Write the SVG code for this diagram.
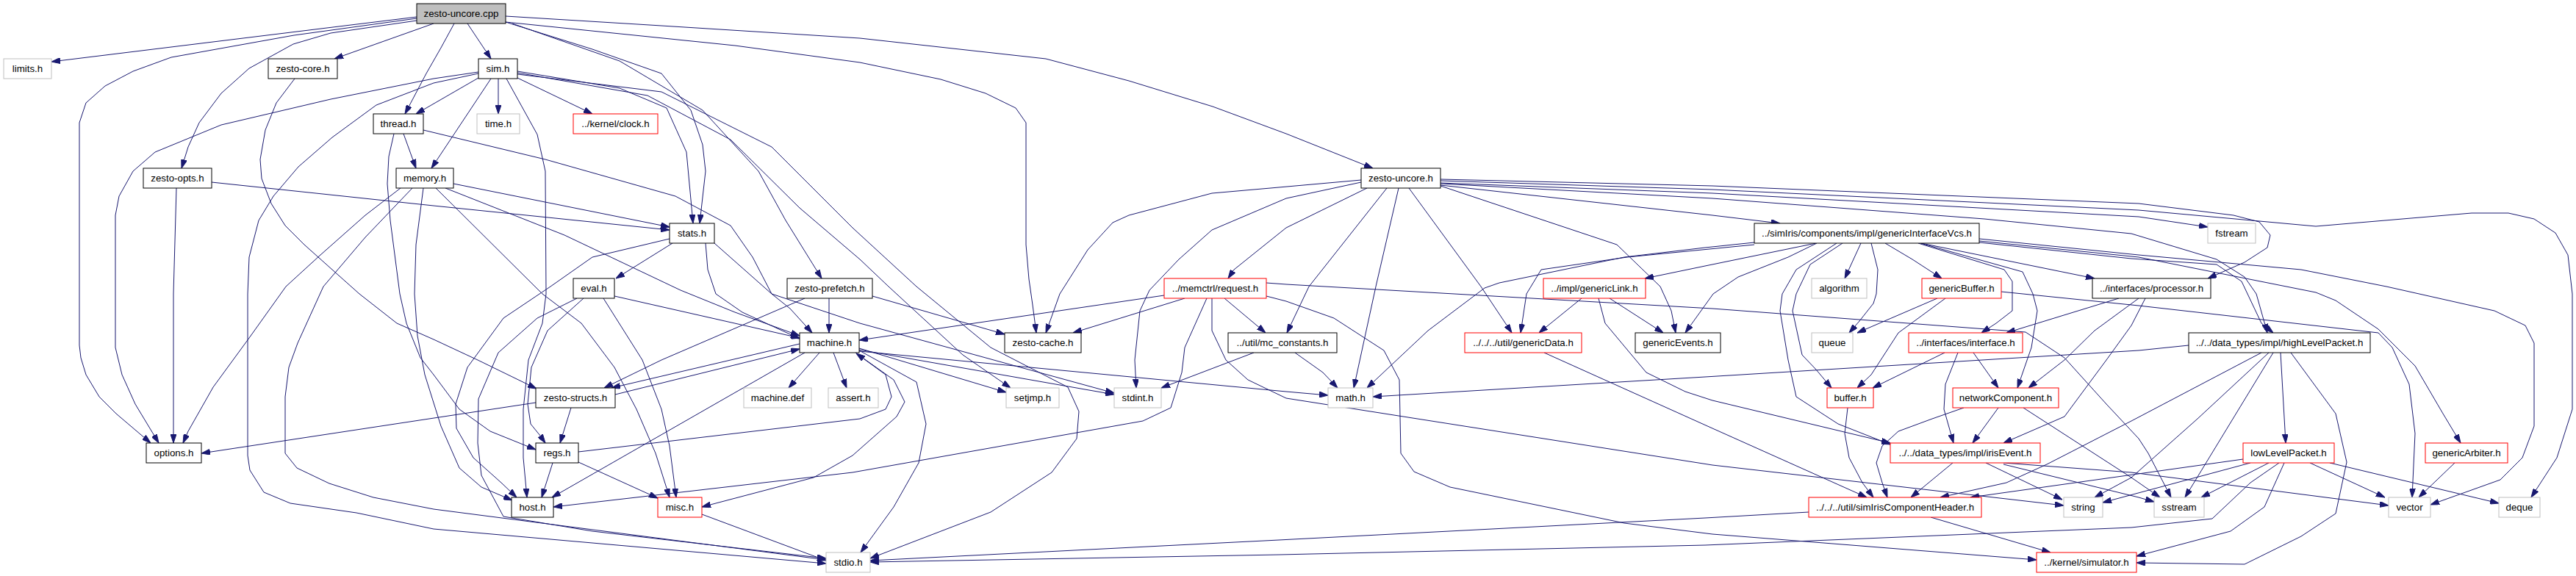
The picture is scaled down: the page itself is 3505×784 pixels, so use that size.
<svg xmlns="http://www.w3.org/2000/svg" width="3505" height="784" viewBox="0 0 3505 784">
<style>
rect{fill:#fff;stroke:#000;stroke-width:1}
.g rect{stroke:#bfbfbf}
.r rect{stroke:#ff0000}
.root rect{fill:#bfbfbf}
text{font-family:"Liberation Sans",Arial,Helvetica,sans-serif;font-size:13.3px;text-anchor:middle;fill:#000}
#edges path{fill:none;stroke:#191970;stroke-width:1;stroke-linejoin:round;marker-end:url(#a)}
</style>
<defs>
<marker id="a" viewBox="0 0 12 8" markerWidth="12" markerHeight="8" refX="12" refY="4" orient="auto" markerUnits="userSpaceOnUse">
<path d="M0,0 L12,4 L0,8 Z" fill="#191970" stroke="#191970" stroke-width="1"/>
</marker>
</defs>
<rect x="0" y="0" width="3505" height="784" style="fill:#fff;stroke:none"/>
<g id="edges">
<path d="M567,23 L70,84"/>
<path d="M567,25 L400,48 L233,78 L181,97 L143,117 L117,140 L108,167 L108,470 L110,487 L117,510 L135,540 L158,563 L205,603"/>
<path d="M567,28 L450,45 L399,60 L339,93 L301,127 L271,167 L256,200 L247,229"/>
<path d="M590,32 L455,80"/>
<path d="M618,32 L600,65 L580,100 L551,155"/>
<path d="M636,32 L668,80"/>
<path d="M688,30 L806,67 L900,100 L940,150 L956,197 L960,233 L952,304"/>
<path d="M697,32 L843,83 L956,150 L1032,233 L1069,300 L1118,379"/>
<path d="M688,22 L900,35 L1170,52 L1423,80 L1536,110 L1650,145 L1750,182 L1868,229"/>
<path d="M688,30 L1000,62 L1170,85 L1280,108 L1341,127 L1382,147 L1396,167 L1396,333 L1400,380 L1405,415 L1410,453"/>
<path d="M678,107 L678,155"/>
<path d="M704,106 L806,155"/>
<path d="M668,107 L587,229"/>
<path d="M651,106 L580,147 L566,155"/>
<path d="M651,98 L590,107 L450,135 L301,170 L211,207 L181,233 L162,267 L157,293 L157,473 L166,510 L184,550 L216,603"/>
<path d="M651,100 L590,113 L512,143 L452,187 L406,227 L372,267 L352,300 L339,350 L337,400 L337,620 L340,640 L359,670 L395,685 L485,698 L590,720 L1124,767"/>
<path d="M689,107 L731,183 L742,233 L743,400 L738,440 L719,490 L712,557 L712,623 L717,677"/>
<path d="M704,97 L843,120 L907,147 L934,207 L943,304"/>
<path d="M704,99 L881,130 L994,190 L1088,283 L1170,353 L1209,390 L1310,483 L1375,528"/>
<path d="M704,101 L900,125 L1050,200 L1160,310 L1247,390 L1348,473 L1453,527 L1468,560 L1465,597 L1431,643 L1348,697 L1184,760"/>
<path d="M401,107 L376,140 L361,177 L354,217 L356,243 L369,277 L388,307 L414,333 L452,367 L489,400 L540,440 L590,462 L650,490 L730,529"/>
<path d="M549,182 L566,229"/>
<path d="M536,182 L529,213 L527,250 L531,300 L544,400 L553,440 L572,487 L590,510 L625,557 L667,587 L729,612"/>
<path d="M576,177 L742,217 L919,267 L994,307 L1024,350 L1050,400 L1075,420 L1105,453"/>
<path d="M617,250 L911,309"/>
<path d="M545,256 L497,293 L436,347 L389,390 L339,460 L290,527 L256,587 L249,603"/>
<path d="M561,256 L497,323 L440,390 L405,467 L393,500 L388,540 L388,617 L404,637 L448,658 L508,677 L590,693 L1124,762"/>
<path d="M576,256 L566,333 L564,400 L568,457 L578,510 L600,580 L625,637 L655,663 L697,681"/>
<path d="M606,256 L768,320 L926,395 L1000,425 L1088,457"/>
<path d="M593,256 L738,400 L791,440 L836,500 L866,557 L892,617 L911,677"/>
<path d="M240,256 L236,400 L236,603"/>
<path d="M288,248 L590,280 L911,313"/>
<path d="M915,331 L838,379"/>
<path d="M960,331 L963,367 L974,400 L1010,425 L1088,461"/>
<path d="M911,325 L806,350 L749,390 L685,433 L636,500 L620,550 L621,583 L644,623 L682,657 L703,677"/>
<path d="M972,331 L1050,400 L1170,440 L1516,535"/>
<path d="M836,403 L1088,460"/>
<path d="M794,406 L745,450 L723,500 L718,550 L722,577 L735,593 L742,603"/>
<path d="M821,406 L874,490 L900,557 L911,607 L920,677"/>
<path d="M785,406 L731,433 L678,480 L651,543 L650,603 L655,647 L685,703 L806,723 L1124,760"/>
<path d="M1128,406 L1128,453"/>
<path d="M1095,406 L900,490 L822,528"/>
<path d="M1187,403 L1367,455"/>
<path d="M729,548 L274,617"/>
<path d="M777,555 L762,603"/>
<path d="M837,537 L1088,475"/>
<path d="M1088,468 L832,528"/>
<path d="M752,630 L737,677"/>
<path d="M787,629 L895,678"/>
<path d="M787,615 L1170,570 L1205,557 L1213,540 L1205,510 L1165,481"/>
<path d="M1115,480 L1073,528"/>
<path d="M1134,480 L1152,528"/>
<path d="M1095,480 L751,677"/>
<path d="M1164,480 L1216,517 L1231,547 L1220,567 L1160,620 L1107,650 L955,690"/>
<path d="M1169,477 L1247,520 L1260,577 L1250,630 L1216,690 L1171,752"/>
<path d="M1169,474 L1369,534"/>
<path d="M1169,476 L1516,537"/>
<path d="M1169,478 L1750,533 L1807,538"/>
<path d="M955,700 L1124,763"/>
<path d="M1584,402 L1169,463"/>
<path d="M1612,406 L1460,453"/>
<path d="M1666,406 L1722,453"/>
<path d="M1642,406 L1612,473 L1608,507 L1593,555 L1555,573 L1160,643 L753,690"/>
<path d="M1649,406 L1649,450 L1668,490 L1698,517 L1750,542 L2330,633 L2808,688"/>
<path d="M1723,385 L1750,387 L2330,420 L2756,452 L2809,487 L2866,550 L2910,597 L2923,617 L2954,677"/>
<path d="M1723,403 L1750,410 L1815,433 L1883,477 L1904,517 L1906,617 L1924,642 L1973,663 L2210,712 L2330,727 L2771,762"/>
<path d="M1706,480 L1580,528"/>
<path d="M1762,480 L1800,507 L1820,528"/>
<path d="M1852,245 L1740,255 L1649,263 L1536,293 L1514,303 L1480,340 L1442,400 L1423,453"/>
<path d="M1852,248 L1750,270 L1649,313 L1604,353 L1564,395 L1551,423 L1544,490 L1546,528"/>
<path d="M1860,256 L1750,310 L1679,367 L1671,379"/>
<path d="M1887,256 L1781,390 L1751,453"/>
<path d="M1903,256 L1872,390 L1842,528"/>
<path d="M1917,256 L2015,390 L2057,453"/>
<path d="M1960,253 L2200,333 L2259,390 L2274,423 L2280,453"/>
<path d="M1960,252 L2330,293 L2422,304"/>
<path d="M1960,249 L2330,263 L2910,295 L3004,309"/>
<path d="M1960,246 L2330,258 L2910,286 L3151,308 L3363,290 L3413,290 L3448,298 L3477,317 L3494,347 L3500,400 L3500,557 L3479,623 L3444,677"/>
<path d="M1960,244 L2330,253 L2910,277 L3039,293 L3074,302 L3089,320 L3085,337 L3054,357 L3004,379"/>
<path d="M1960,250 L2330,270 L2700,298 L2900,318 L3016,353 L3054,377 L3070,400 L3085,453"/>
<path d="M2387,330 L2320,337 L2210,350 L2040,385 L2020,392 L1943,450 L1860,528"/>
<path d="M2387,333 L2214,350 L2097,367 L2077,400 L2069,453"/>
<path d="M2471,331 L2320,362 L2238,379"/>
<path d="M2472,331 L2433,350 L2365,377 L2331,400 L2293,453"/>
<path d="M2499,331 L2444,367 L2425,400 L2422,423 L2433,490 L2444,540 L2501,577 L2572,605"/>
<path d="M2507,331 L2463,360 L2444,400 L2439,423 L2452,483 L2471,503 L2492,528"/>
<path d="M2532,331 L2510,379"/>
<path d="M2546,331 L2555,367 L2553,400 L2549,413 L2530,437 L2516,453"/>
<path d="M2565,331 L2602,353 L2642,379"/>
<path d="M2610,331 L2727,367 L2738,383 L2738,423 L2716,440 L2696,453"/>
<path d="M2613,331 L2752,370 L2766,400 L2772,423 L2764,473 L2745,528"/>
<path d="M2614,331 L2850,379"/>
<path d="M2693,325 L2910,347 L3131,367 L3247,390 L3394,423 L3436,443 L3448,467 L3448,580 L3432,623 L3402,653 L3307,687"/>
<path d="M2693,328 L2910,350 L3151,398 L3178,409 L3236,448 L3286,498 L3324,563 L3348,603"/>
<path d="M2693,330 L2900,352 L3016,360 L3050,383 L3077,440 L3093,453"/>
<path d="M2152,406 L2094,453"/>
<path d="M2190,406 L2263,453"/>
<path d="M2175,406 L2184,440 L2240,507 L2293,533 L2330,545 L2572,603"/>
<path d="M2636,406 L2527,453"/>
<path d="M2647,406 L2583,453 L2546,510 L2527,528"/>
<path d="M2723,397 L2910,416 L3236,453 L3255,473 L3278,523 L3286,590 L3282,677"/>
<path d="M2883,406 L2730,453"/>
<path d="M2910,406 L2850,450 L2809,490 L2760,528"/>
<path d="M2919,406 L2900,443 L2866,490 L2809,567 L2726,603"/>
<path d="M2646,480 L2548,528"/>
<path d="M2664,480 L2647,523 L2645,557 L2658,603"/>
<path d="M2685,480 L2719,528"/>
<path d="M2514,555 L2510,590 L2516,623 L2534,657 L2549,677"/>
<path d="M2719,555 L2684,603"/>
<path d="M2672,555 L2629,570 L2583,587 L2561,607 L2553,630 L2561,657 L2568,677"/>
<path d="M2753,555 L2900,650 L2939,677"/>
<path d="M2657,630 L2600,677"/>
<path d="M2702,630 L2806,680"/>
<path d="M2726,630 L2900,643 L3250,688"/>
<path d="M2726,632 L2910,677 L2931,683"/>
<path d="M3052,625 L2681,677"/>
<path d="M3062,630 L2861,684"/>
<path d="M3087,630 L2995,677"/>
<path d="M3101,630 L3062,657 L3010,706 L2900,718 L2320,742 L1740,755 L1184,765"/>
<path d="M3108,630 L3081,690 L3035,723 L2907,757"/>
<path d="M3143,630 L3245,677"/>
<path d="M3170,630 L3400,685"/>
<path d="M3340,630 L3291,677"/>
<path d="M2978,470 L2910,477 L2320,513 L1868,540"/>
<path d="M3077,480 L2900,573 L2785,632 L2730,657 L2640,677"/>
<path d="M3087,480 L2990,570 L2900,650 L2850,677"/>
<path d="M3093,480 L2973,677"/>
<path d="M3103,480 L3110,603"/>
<path d="M3117,480 L3178,563 L3193,629 L3178,699 L3131,730 L3054,768 L2907,766"/>
<path d="M2101,480 L2330,583 L2540,677"/>
<path d="M2461,697 L2320,705 L1740,735 L1184,763"/>
<path d="M2627,704 L2790,752"/>
</g>
<g id="n-cpp" class="root"><rect x="567" y="5" width="121" height="27"/><text x="627.5" y="23">zesto-uncore.cpp</text></g>
<g id="n-limits" class="g"><rect x="5" y="80" width="65" height="27"/><text x="37.5" y="98">limits.h</text></g>
<g id="n-core"><rect x="365" y="80" width="94" height="27"/><text x="412" y="98">zesto-core.h</text></g>
<g id="n-sim"><rect x="651" y="80" width="53" height="27"/><text x="677.5" y="98">sim.h</text></g>
<g id="n-time" class="g"><rect x="649" y="155" width="58" height="27"/><text x="678" y="173">time.h</text></g>
<g id="n-clock" class="r"><rect x="780" y="155" width="115" height="27"/><text x="837.5" y="173">../kernel/clock.h</text></g>
<g id="n-thread"><rect x="508" y="155" width="68" height="27"/><text x="542" y="173">thread.h</text></g>
<g id="n-opts"><rect x="195" y="229" width="93" height="27"/><text x="241.5" y="247">zesto-opts.h</text></g>
<g id="n-memory"><rect x="539" y="229" width="78" height="27"/><text x="578" y="247">memory.h</text></g>
<g id="n-uncoreh"><rect x="1852" y="229" width="108" height="27"/><text x="1906" y="247">zesto-uncore.h</text></g>
<g id="n-stats"><rect x="911" y="304" width="61" height="27"/><text x="941.5" y="322">stats.h</text></g>
<g id="n-givcs"><rect x="2387" y="304" width="306" height="27"/><text x="2540" y="322">../simIris/components/impl/genericInterfaceVcs.h</text></g>
<g id="n-fstream" class="g"><rect x="3004" y="304" width="65" height="27"/><text x="3036.5" y="322">fstream</text></g>
<g id="n-eval"><rect x="780" y="379" width="56" height="27"/><text x="808" y="397">eval.h</text></g>
<g id="n-prefetch"><rect x="1071" y="379" width="116" height="27"/><text x="1129" y="397">zesto-prefetch.h</text></g>
<g id="n-request" class="r"><rect x="1584" y="379" width="139" height="27"/><text x="1653.5" y="397">../memctrl/request.h</text></g>
<g id="n-glink" class="r"><rect x="2100" y="379" width="139" height="27"/><text x="2169.5" y="397">../impl/genericLink.h</text></g>
<g id="n-algorithm" class="g"><rect x="2465" y="379" width="75" height="27"/><text x="2502.5" y="397">algorithm</text></g>
<g id="n-gbuffer" class="r"><rect x="2615" y="379" width="108" height="27"/><text x="2669" y="397">genericBuffer.h</text></g>
<g id="n-processor"><rect x="2847" y="379" width="161" height="27"/><text x="2927.5" y="397">../interfaces/processor.h</text></g>
<g id="n-machine"><rect x="1088" y="453" width="81" height="27"/><text x="1128.5" y="471">machine.h</text></g>
<g id="n-cache"><rect x="1367" y="453" width="104" height="27"/><text x="1419" y="471">zesto-cache.h</text></g>
<g id="n-mcconst"><rect x="1671" y="453" width="148" height="27"/><text x="1745" y="471">../util/mc_constants.h</text></g>
<g id="n-gdata" class="r"><rect x="1993" y="453" width="159" height="27"/><text x="2072.5" y="471">../../../util/genericData.h</text></g>
<g id="n-gevents"><rect x="2225" y="453" width="116" height="27"/><text x="2283" y="471">genericEvents.h</text></g>
<g id="n-queue" class="g"><rect x="2465" y="453" width="56" height="27"/><text x="2493" y="471">queue</text></g>
<g id="n-interface" class="r"><rect x="2597" y="453" width="155" height="27"/><text x="2674.5" y="471">../interfaces/interface.h</text></g>
<g id="n-hlp"><rect x="2978" y="453" width="247" height="27"/><text x="3101.5" y="471">../../data_types/impl/highLevelPacket.h</text></g>
<g id="n-structs"><rect x="729" y="528" width="108" height="27"/><text x="783" y="546">zesto-structs.h</text></g>
<g id="n-mdef" class="g"><rect x="1012" y="528" width="92" height="27"/><text x="1058" y="546">machine.def</text></g>
<g id="n-assert" class="g"><rect x="1127" y="528" width="68" height="27"/><text x="1161" y="546">assert.h</text></g>
<g id="n-setjmp" class="g"><rect x="1369" y="528" width="72" height="27"/><text x="1405" y="546">setjmp.h</text></g>
<g id="n-stdint" class="g"><rect x="1516" y="528" width="64" height="27"/><text x="1548" y="546">stdint.h</text></g>
<g id="n-math" class="g"><rect x="1807" y="528" width="61" height="27"/><text x="1837.5" y="546">math.h</text></g>
<g id="n-buffer" class="r"><rect x="2486" y="528" width="63" height="27"/><text x="2517.5" y="546">buffer.h</text></g>
<g id="n-netcomp" class="r"><rect x="2657" y="528" width="144" height="27"/><text x="2729" y="546">networkComponent.h</text></g>
<g id="n-options"><rect x="199" y="603" width="75" height="27"/><text x="236.5" y="621">options.h</text></g>
<g id="n-regs"><rect x="729" y="603" width="58" height="27"/><text x="758" y="621">regs.h</text></g>
<g id="n-iris" class="r"><rect x="2572" y="603" width="204" height="27"/><text x="2674" y="621">../../data_types/impl/irisEvent.h</text></g>
<g id="n-llp" class="r"><rect x="3052" y="603" width="124" height="27"/><text x="3114" y="621">lowLevelPacket.h</text></g>
<g id="n-garbiter" class="r"><rect x="3300" y="603" width="112" height="27"/><text x="3356" y="621">genericArbiter.h</text></g>
<g id="n-host"><rect x="696" y="677" width="57" height="27"/><text x="724.5" y="695">host.h</text></g>
<g id="n-misc" class="r"><rect x="895" y="677" width="60" height="27"/><text x="925" y="695">misc.h</text></g>
<g id="n-sich" class="r"><rect x="2461" y="677" width="235" height="27"/><text x="2578.5" y="695">../../../util/simIrisComponentHeader.h</text></g>
<g id="n-string" class="g"><rect x="2808" y="677" width="53" height="27"/><text x="2834.5" y="695">string</text></g>
<g id="n-sstream" class="g"><rect x="2931" y="677" width="68" height="27"/><text x="2965" y="695">sstream</text></g>
<g id="n-vector" class="g"><rect x="3250" y="677" width="57" height="27"/><text x="3278.5" y="695">vector</text></g>
<g id="n-deque" class="g"><rect x="3400" y="677" width="56" height="27"/><text x="3428" y="695">deque</text></g>
<g id="n-stdio" class="g"><rect x="1124" y="752" width="60" height="27"/><text x="1154" y="770">stdio.h</text></g>
<g id="n-simulator" class="r"><rect x="2771" y="752" width="136" height="27"/><text x="2839" y="770">../kernel/simulator.h</text></g>
</svg>
